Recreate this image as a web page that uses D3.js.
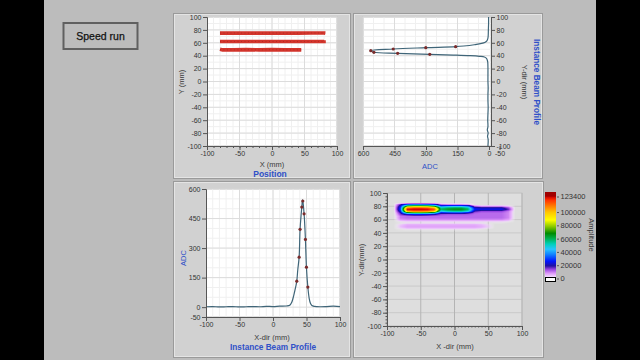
<!doctype html>
<html>
<head>
<meta charset="utf-8">
<script src="https://cdn.jsdelivr.net/npm/d3@7"></script>
<style>
  body { margin: 0; background: #000; }
  svg text { font-family: "Liberation Sans", Arial, sans-serif; }
</style>
</head>
<body>
<svg id="chart" width="640" height="360"></svg>
<script>
// ---- data ----
// Position (three tracks, mm)
var trackX1 = [-80, -60, -40, -20, 0, 20, 40, 60, 80, 82];
var trackY1 = [75, 75.3, 75, 75, 75.3, 75, 75, 75.3, 75.3, 75];
var trackX2 = [-80, -60, -40, -20, 0, 20, 40, 60, 78, 80, 80];
var trackY2 = [62, 62, 62, 62, 62, 62, 62, 62, 62, 62, 64];
var trackX3 = [-80, -76, -60, -40, -20, 0, 20, 40, 45];
var trackY3 = [50, 49, 49, 49.4, 49, 49.4, 49, 49, 49];

// Y-dir instance beam profile
var profY    = [100, 90, 80, 70, 66, 63, 61, 59, 57, 55, 54, 52.4, 50.4, 47.8, 45.3, 43.7, 42.1, 41, 40, 39, 38, 36, 33, 30, 20, 10, 0, -10, -20, -30, -40, -50, -60, -70, -75, -80, -85, -90, -100];
var profYadc = [2, 2, 3, 4, 6, 10, 18, 35, 70, 120, 159, 301, 456, 563, 548, 435, 282, 170, 90, 45, 22, 12, 8, 6, 5, 5, 5, 4, 5, 5, 4, 5, 6, 5, 8, 4, 7, 4, 5];
var dotY     = [54, 52.4, 50.4, 47.8, 45.3, 43.7, 42.1];
var dotYadc  = [159, 301, 456, 563, 548, 435, 282];

// X-dir instance beam profile
var profX    = [-100, -90, -80, -70, -60, -50, -40, -30, -20, -10, 0, 10, 20, 25, 28, 31, 34, 35.5, 37, 39, 40.4, 42, 43, 44, 44.5, 46.4, 48.4, 49.9, 52, 54, 56, 58, 62, 70, 80, 90, 100];
var profXadc = [2, 3, 1, 2, 3, 1, 2, 3, 2, 4, 3, 5, 6, 10, 25, 60, 105, 132, 190, 254, 395, 470, 508, 545, 539, 474, 344, 203, 102, 45, 18, 8, 4, 2, 3, 5, 3];
var dotX     = [35.5, 39, 40.4, 43, 44.5, 46.4, 48.4, 49.9, 52];
var dotXadc  = [132, 254, 395, 508, 539, 474, 344, 203, 102];

// intensity graph (amplitude in thousands)
var heatX = [-90, -80, -70, -60, -50, -40, -30, -20, -10, 0, 10, 20, 30, 40, 50, 60, 70, 80, 90];
var heatY = [87.5, 85, 82.5, 80, 77.5, 75, 72.5, 70, 67.5, 65, 62.5, 60, 57.5, 55, 52.5, 50, 47.5, 45, 42.5];
var heatK = [
  [0, 0, 0, 0, 0, 0, 0, 0, 0, 0, 0, 0, 0, 0, 0, 0, 0, 0, 0],
  [0, 0, 0, 0, 0, 0, 0, 0, 0, 0, 0, 0, 0, 0, 0, 0, 0, 0, 0],
  [0, 18, 35, 38, 38, 36, 30, 12, 10, 10, 10, 8, 0, 0, 0, 0, 0, 0, 0],
  [0, 25, 75, 80, 80, 78, 70, 35, 40, 42, 42, 35, 12, 8, 8, 8, 8, 5, 0],
  [0, 30, 112, 118, 118, 116, 105, 55, 60, 62, 62, 55, 24, 22, 22, 22, 22, 14, 0],
  [0, 30, 122, 123, 123, 122, 115, 58, 63, 65, 65, 58, 26, 24, 24, 24, 24, 16, 0],
  [0, 25, 105, 112, 112, 110, 100, 45, 52, 55, 55, 48, 18, 14, 14, 14, 14, 10, 0],
  [0, 18, 55, 62, 62, 60, 50, 22, 24, 25, 25, 20, 12, 11, 11, 11, 11, 9, 0],
  [0, 14, 20, 24, 24, 22, 18, 13, 12, 12, 12, 12, 11, 11, 11, 11, 11, 9, 0],
  [0, 10, 11, 11, 11, 11, 11, 11, 11, 11, 11, 11, 11, 11, 11, 11, 11, 9, 0],
  [0, 10, 11, 11, 11, 11, 11, 11, 11, 11, 11, 11, 11, 11, 11, 11, 11, 9, 0],
  [0, 8, 9, 9, 9, 9, 9, 9, 9, 9, 9, 9, 9, 9, 9, 9, 9, 7, 0],
  [0, 3, 4, 4, 4, 4, 4, 4, 4, 4, 4, 4, 4, 4, 4, 4, 4, 3, 0],
  [0, 1, 2, 2, 2, 2, 2, 2, 2, 2, 2, 2, 2, 2, 1, 1, 1, 0, 0],
  [0, 4, 6, 6, 6, 6, 6, 6, 6, 6, 6, 6, 6, 5, 3, 0, 0, 0, 0],
  [0, 5, 7, 7, 7, 7, 7, 7, 7, 7, 7, 7, 7, 6, 4, 0, 0, 0, 0],
  [0, 4, 6, 6, 6, 6, 6, 6, 6, 6, 6, 6, 6, 5, 3, 0, 0, 0, 0],
  [0, 1, 2, 2, 2, 2, 2, 2, 2, 2, 2, 2, 2, 1, 0, 0, 0, 0, 0],
  [0, 0, 0, 0, 0, 0, 0, 0, 0, 0, 0, 0, 0, 0, 0, 0, 0, 0, 0]
];
var ampTicks = [0, 20000, 40000, 60000, 80000, 100000, 123400];

// tick labels
var mmTicks   = [-100, -50, 0, 50, 100];
var mmTicksY  = [-100, -80, -60, -40, -20, 0, 20, 40, 60, 80, 100];
var adcTicks  = [600, 450, 300, 150, 0, -50];
var adcTicksV = [-50, 0, 150, 300, 450, 600];

// ---- palette ----
var ampStops  = [0, 3000, 8000, 14000, 19000, 26000, 36000, 44000, 52000, 60000, 68000, 78000, 88000, 100000, 110000, 118000, 123400];
var ampColors = ['#ffffff', '#f2d4ff', '#dc96f8', '#9440e0', '#2010a0', '#0014ff', '#1080ff', '#28c4ff', '#00d0b8',
                 '#00b050', '#008a00', '#88c800', '#ffff00', '#ffc400', '#ff7400', '#ff3000', '#c80000'];
var color = d3.scaleLinear().domain(ampStops).range(ampColors).clamp(true);

var blue = '#2f50c8';
var svg = d3.select('#chart');

svg.append('rect').attr('width', 640).attr('height', 360).attr('fill', '#000');
svg.append('rect').attr('x', 44).attr('width', 552).attr('height', 360).attr('fill', '#bcbcbc');

// Speed run box
svg.append('rect').attr('x', 63.5).attr('y', 23).attr('width', 74).attr('height', 26)
   .attr('fill', '#bcbcbc').attr('stroke', '#606060').attr('stroke-width', 2);
svg.append('text').attr('x', 100.5).attr('y', 36).attr('dy', '0.35em').attr('text-anchor', 'middle')
   .style('font-size', '10.5px').attr('fill', '#111').attr('stroke', '#111').attr('stroke-width', 0.25)
   .text('Speed run');

function panel(x, y, w, h) {
  svg.append('rect').attr('x', x + 0.5).attr('y', y + 0.5).attr('width', w).attr('height', h)
     .attr('fill', '#d1d1d1').attr('stroke', '#9a9a9a');
  svg.append('rect').attr('x', x + 1.5).attr('y', y + 1.5).attr('width', w - 2).attr('height', h - 2)
     .attr('fill', 'none').attr('stroke', '#e4e4e4');
}

function label(x, y, txt, opts) {
  var t = svg.append('text').attr('x', x).attr('y', y).attr('dy', '0.35em').attr('text-anchor', 'middle')
     .style('font-size', (opts.size || 7.5) + 'px').attr('fill', opts.fill || '#3a3a3a')
     .style('font-weight', opts.bold ? 'bold' : 'normal').text(txt);
  if (opts.rot) t.attr('transform', 'rotate(' + opts.rot + ',' + x + ',' + y + ')');
  if (opts.len) t.attr('textLength', opts.len).attr('lengthAdjust', 'spacingAndGlyphs');
  return t;
}

function vlines(g, sx, vals, y0, y1, c) {
  g.selectAll(null).data(vals).enter().append('line')
   .attr('x1', function(d){ return sx(d); }).attr('x2', function(d){ return sx(d); })
   .attr('y1', y0).attr('y2', y1).attr('stroke', c).attr('stroke-width', 1);
}
function hlines(g, sy, vals, x0, x1, c) {
  g.selectAll(null).data(vals).enter().append('line')
   .attr('y1', function(d){ return sy(d); }).attr('y2', function(d){ return sy(d); })
   .attr('x1', x0).attr('x2', x1).attr('stroke', c).attr('stroke-width', 1);
}

function styleAxis(g) {
  g.attr('font-family', null).attr('font-size', null);
  g.selectAll('path').attr('stroke', '#555');
  g.selectAll('line').attr('stroke', '#555');
  g.selectAll('text').attr('fill', '#333').style('font-size', '7px');
}
function fmt(d) { return String(d); }
function range(a, b, s) { return d3.range(a, b + s / 2, s); }

// ---- panel 1: Position ----
panel(173, 13, 177, 165);
var x1 = d3.scaleLinear().domain([-100, 100]).range([207, 337]);
var y1 = d3.scaleLinear().domain([-100, 100]).range([146, 17]);
var g1 = svg.append('g');
g1.append('rect').attr('x', 207).attr('y', 17).attr('width', 130).attr('height', 129).attr('fill', '#fff').attr('stroke', '#c4c4c4');
vlines(g1, x1, range(-90, 90, 10), 17, 146, '#f0f0f0');
hlines(g1, y1, range(-90, 90, 10), 207, 337, '#f0f0f0');
vlines(g1, x1, mmTicks, 17, 146, '#dcdcdc');
hlines(g1, y1, mmTicksY, 207, 337, '#dcdcdc');
[[trackX1, trackY1], [trackX2, trackY2], [trackX3, trackY3]].forEach(function(t) {
  var pts = t[0].map(function(x, i){ return [x, t[1][i]]; });
  var ln = d3.line().x(function(d){ return x1(d[0]); }).y(function(d){ return y1(d[1]); });
  g1.append('path').datum(pts).attr('d', ln)
    .attr('fill', 'none').attr('stroke', '#d3352c').attr('stroke-width', 3.6);
  g1.append('path').datum(pts).attr('d', ln)
    .attr('fill', 'none').attr('stroke', '#b02822').attr('stroke-width', 0.8).attr('stroke-dasharray', '1,2.5');
});
var a1x = svg.append('g').attr('transform', 'translate(0,146)')
  .call(d3.axisBottom(x1).tickValues(mmTicks).tickFormat(fmt).tickSize(4).tickPadding(1.5));
svg.append('g').attr('transform', 'translate(0,146)')
  .call(d3.axisBottom(x1).tickValues(range(-90, 90, 10)).tickFormat('').tickSize(2)).call(styleAxis)
  .select('.domain').remove();
styleAxis(a1x);
var a1y = svg.append('g').attr('transform', 'translate(207,0)')
  .call(d3.axisLeft(y1).tickValues(mmTicksY).tickFormat(fmt).tickSize(4).tickPadding(1.5));
styleAxis(a1y);
label(272, 164, 'X (mm)', {});
label(270, 174.5, 'Position', { size: 8.5, bold: true, fill: blue });
label(181, 82, 'Y (mm)', { rot: -90 });

// ---- panel 2: Y-dir profile ----
panel(353, 13, 189, 165);
var x2 = d3.scaleLinear().domain([600, -50]).range([363, 499.5]);
var y2 = d3.scaleLinear().domain([-100, 100]).range([146, 17]);
var g2 = svg.append('g');
g2.append('rect').attr('x', 363).attr('y', 17).attr('width', 128).attr('height', 129).attr('fill', '#fff').attr('stroke', '#c4c4c4');
vlines(g2, x2, range(50, 550, 50), 17, 146, '#f0f0f0');
hlines(g2, y2, range(-90, 90, 10), 363, 491, '#f0f0f0');
vlines(g2, x2, [600, 450, 300, 150], 17, 146, '#dcdcdc');
hlines(g2, y2, mmTicksY, 363, 491, '#dcdcdc');
var ptsY = profY.map(function(y, i){ return [profYadc[i], y]; });
g2.append('path').datum(ptsY)
  .attr('d', d3.line().x(function(d){ return x2(d[0]); }).y(function(d){ return y2(d[1]); }).curve(d3.curveCatmullRom.alpha(0.5)))
  .attr('fill', 'none').attr('stroke', '#3f6578').attr('stroke-width', 1.2);
g2.selectAll(null).data(dotY).enter().append('circle')
  .attr('cx', function(d, i){ return x2(dotYadc[i]); }).attr('cy', function(d){ return y2(d); })
  .attr('r', 1.6).attr('fill', '#7a2c2c');
var a2x = svg.append('g').attr('transform', 'translate(0,146)')
  .call(d3.axisBottom(x2).tickValues(adcTicks).tickFormat(fmt).tickSize(4).tickPadding(1.5));
styleAxis(a2x);
a2x.select('.domain').attr('d', 'M363,0.5H491');
var a2y = svg.append('g').attr('transform', 'translate(491,0)')
  .call(d3.axisRight(y2).tickValues(mmTicksY).tickFormat(fmt).tickSize(4).tickPadding(1.5));
styleAxis(a2y);
label(430, 166, 'ADC', { fill: blue });
label(525, 82, 'Y-dir (mm)', { rot: 90 });
label(537, 82, 'Instance Beam Profile', { size: 8.5, bold: true, fill: blue, rot: 90, len: 86 });

// ---- panel 3: X-dir profile ----
panel(173, 181, 177, 176);
var x3 = d3.scaleLinear().domain([-100, 100]).range([206, 340]);
var y3 = d3.scaleLinear().domain([-50, 600]).range([317, 189]);
var g3 = svg.append('g');
g3.append('rect').attr('x', 206).attr('y', 189).attr('width', 134).attr('height', 128).attr('fill', '#fff').attr('stroke', '#c4c4c4');
vlines(g3, x3, range(-90, 90, 10), 189, 317, '#f0f0f0');
hlines(g3, y3, range(50, 550, 50), 206, 340, '#f0f0f0');
vlines(g3, x3, mmTicks, 189, 317, '#dcdcdc');
hlines(g3, y3, adcTicksV, 206, 340, '#dcdcdc');
var ptsX = profX.map(function(x, i){ return [x, profXadc[i]]; });
g3.append('path').datum(ptsX)
  .attr('d', d3.line().x(function(d){ return x3(d[0]); }).y(function(d){ return y3(d[1]); }).curve(d3.curveCatmullRom.alpha(0.5)))
  .attr('fill', 'none').attr('stroke', '#3f6578').attr('stroke-width', 1.2);
g3.selectAll(null).data(dotX).enter().append('circle')
  .attr('cx', function(d){ return x3(d); }).attr('cy', function(d, i){ return y3(dotXadc[i]); })
  .attr('r', 1.6).attr('fill', '#7a2c2c');
var a3x = svg.append('g').attr('transform', 'translate(0,317)')
  .call(d3.axisBottom(x3).tickValues(mmTicks).tickFormat(fmt).tickSize(4).tickPadding(1.5));
styleAxis(a3x);
var a3y = svg.append('g').attr('transform', 'translate(206,0)')
  .call(d3.axisLeft(y3).tickValues(adcTicksV).tickFormat(fmt).tickSize(4).tickPadding(1.5));
styleAxis(a3y);
label(272, 337, 'X-dir (mm)', {});
label(273, 347, 'Instance Beam Profile', { size: 8.5, bold: true, fill: blue, len: 86 });
label(183, 258, 'ADC', { fill: blue, rot: -90 });

// ---- panel 4: intensity graph ----
panel(353, 181, 190, 176);
var x4 = d3.scaleLinear().domain([-100, 100]).range([387, 522]);
var y4 = d3.scaleLinear().domain([-100, 100]).range([326, 193]);
var g4 = svg.append('g');
g4.append('rect').attr('x', 387).attr('y', 193).attr('width', 135).attr('height', 133).attr('fill', '#dedede').attr('stroke', '#c8c8c8');
hlines(g4, y4, mmTicksY, 387, 522, '#c9c9c9');
vlines(g4, x4, mmTicks, 193, 326, '#b4b4b4');

function sample(X, Y) {
  var nx = heatX.length, ny = heatY.length;
  if (X <= heatX[0] || X >= heatX[nx - 1] || Y >= heatY[0] || Y <= heatY[ny - 1]) return 0;
  var i = d3.bisectRight(heatX, X) - 1;
  var tx = (X - heatX[i]) / (heatX[i + 1] - heatX[i]);
  var j = 0;
  while (heatY[j + 1] > Y) j++;
  var ty = (heatY[j] - Y) / (heatY[j] - heatY[j + 1]);
  var a = heatK[j][i], b = heatK[j][i + 1], c = heatK[j + 1][i], d = heatK[j + 1][i + 1];
  return ((a * (1 - tx) + b * tx) * (1 - ty) + (c * (1 - tx) + d * tx) * ty) * 1000;
}
var cw = 135, ch = 133;
var cv = document.createElement('canvas');
cv.width = cw; cv.height = ch;
var ctx = cv.getContext('2d');
var img = ctx.createImageData(cw, ch);
for (var py = 0; py < ch; py++) {
  for (var px = 0; px < cw; px++) {
    var v = sample(x4.invert(387 + px + 0.5), y4.invert(193 + py + 0.5));
    var k = (py * cw + px) * 4;
    if (v <= 0) { img.data[k + 3] = 0; continue; }
    var col = d3.rgb(color(v));
    img.data[k] = col.r; img.data[k + 1] = col.g; img.data[k + 2] = col.b;
    img.data[k + 3] = Math.round(255 * Math.min(1, v / 5000));
  }
}
ctx.putImageData(img, 0, 0);
g4.append('image').attr('x', 387).attr('y', 193).attr('width', cw).attr('height', ch)
  .attr('href', cv.toDataURL());

var a4x = svg.append('g').attr('transform', 'translate(0,326)')
  .call(d3.axisBottom(x4).tickValues(mmTicks).tickFormat(fmt).tickSize(4).tickPadding(1.5));
styleAxis(a4x);
svg.append('g').attr('transform', 'translate(0,326)')
  .call(d3.axisBottom(x4).tickValues(range(-95, 95, 5)).tickFormat('').tickSize(1.5)).call(styleAxis)
  .select('.domain').remove();
var a4y = svg.append('g').attr('transform', 'translate(387,0)')
  .call(d3.axisLeft(y4).tickValues(mmTicksY).tickFormat(fmt).tickSize(4).tickPadding(1.5));
styleAxis(a4y);
svg.append('g').attr('transform', 'translate(387,0)')
  .call(d3.axisLeft(y4).tickValues(range(-95, 95, 5)).tickFormat('').tickSize(1.5)).call(styleAxis)
  .select('.domain').remove();
label(455, 346, 'X -dir (mm)', {});
label(361, 260, 'Y-dir(mm)', { rot: -90 });

// ---- colour ramp ----
var cs = d3.scaleLinear().domain([0, 123400]).range([278.5, 196.5]);
var grad = svg.append('defs').append('linearGradient').attr('id', 'ramp')
  .attr('gradientUnits', 'userSpaceOnUse').attr('x1', 0).attr('x2', 0).attr('y1', cs(0)).attr('y2', cs(123400));
ampStops.forEach(function(s, i) {
  grad.append('stop').attr('offset', s / 123400).attr('stop-color', ampColors[i]);
});
svg.append('rect').attr('x', 545).attr('y', 192).attr('width', 11).attr('height', 5).attr('fill', '#a00000');
svg.append('rect').attr('x', 545).attr('y', cs(123400)).attr('width', 11).attr('height', cs(0) - cs(123400)).attr('fill', 'url(#ramp)');
svg.append('rect').attr('x', 545.5).attr('y', cs(0) - 1).attr('width', 10).attr('height', 4)
  .attr('fill', '#fff').attr('stroke', '#000').attr('stroke-width', 1);
var ac = svg.append('g').attr('transform', 'translate(557,0)')
  .call(d3.axisRight(cs).tickValues(ampTicks).tickFormat(fmt).tickSize(2).tickPadding(1.5));
styleAxis(ac);
ac.select('.domain').remove();
ac.selectAll('text').style('font-size', '7.5px');
label(592, 235, 'Amplitude', { rot: 90 });
</script>
</body>
</html>
